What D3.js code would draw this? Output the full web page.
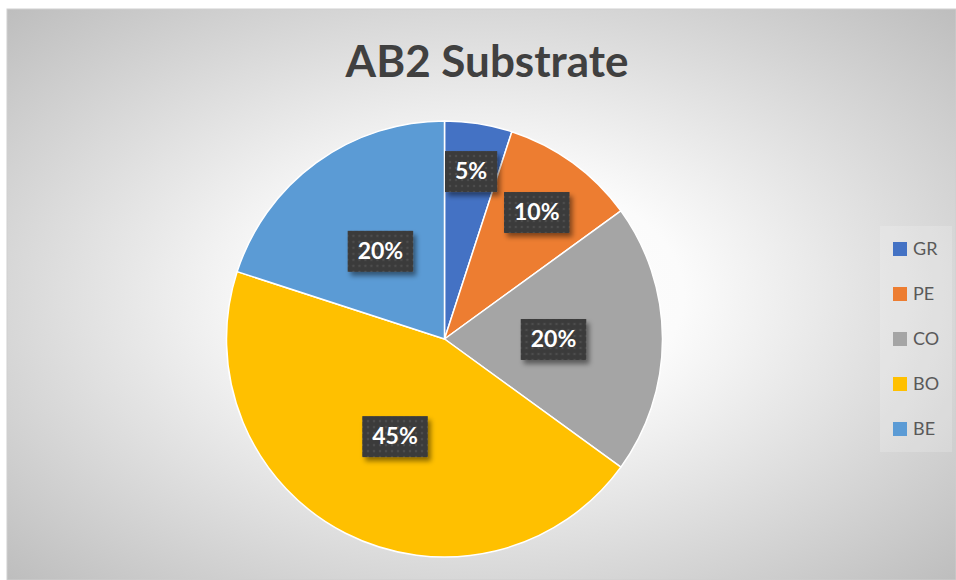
<!DOCTYPE html>
<html>
<head>
<meta charset="utf-8">
<script src="https://cdn.jsdelivr.net/npm/d3@7"></script>
<style>
  html, body { margin: 0; padding: 0; background: #fff; }
  svg { display: block; }
</style>
</head>
<body>
<svg id="chart" width="956" height="580"></svg>
<script>
const title = "AB2 Substrate";
const categories = ["GR", "PE", "CO", "BO", "BE"];
const shares = [5, 10, 20, 45, 20];
const colors = ["#4472C4", "#ED7D31", "#A5A5A5", "#FFC000", "#5B9BD5"];

const svg = d3.select('#chart');
const width = 956, height = 580;
const frame = { x: 7, y: 9, w: width - 7, h: height - 9 };

const defs = svg.append('defs');

// background gradient, white in the middle, grey at the corners
const grad = defs.append('radialGradient')
  .attr('id', 'bg')
  .attr('cx', '50%').attr('cy', '50%').attr('r', '71%');
grad.append('stop').attr('offset', '0%').attr('stop-color', '#ffffff');
grad.append('stop').attr('offset', '30%').attr('stop-color', '#fbfbfb');
grad.append('stop').attr('offset', '100%').attr('stop-color', '#bdbdbd');

// dotted dark fill for the data labels
const pat = defs.append('pattern')
  .attr('id', 'dots')
  .attr('width', 6).attr('height', 6)
  .attr('patternUnits', 'userSpaceOnUse');
pat.append('rect').attr('width', 6).attr('height', 6).attr('fill', '#3b3b3b');
pat.append('circle').attr('cx', 3).attr('cy', 3).attr('r', 1.2).attr('fill', '#4e4e4e');

const shadow = defs.append('filter').attr('id', 'shadow')
  .attr('x', '-20%').attr('y', '-20%').attr('width', '150%').attr('height', '160%');
shadow.append('feDropShadow')
  .attr('dx', 3).attr('dy', 4).attr('stdDeviation', 2.5)
  .attr('flood-color', '#000').attr('flood-opacity', 0.45);

svg.append('rect')
  .attr('x', frame.x).attr('y', frame.y)
  .attr('width', frame.w).attr('height', frame.h)
  .attr('fill', 'url(#bg)')
  .attr('stroke', '#cfcfcf');

// title
svg.append('text')
  .attr('x', 487)
  .attr('y', 77)
  .attr('text-anchor', 'middle')
  .style('font-family', 'Lato, "Open Sans", sans-serif')
  .style('font-weight', 'bold')
  .style('font-size', '44px')
  .attr('fill', '#404040')
  .text(title);

// pie
const cx = 444.5, cy = 339, radius = 218;
const data = categories.map((c, i) => ({ cat: c, value: shares[i], color: colors[i] }));

const pie = d3.pie().sort(null).value(d => d.value);
const arcs = pie(data);
const arc = d3.arc().innerRadius(0).outerRadius(radius);

const g = svg.append('g').attr('transform', `translate(${cx},${cy})`);

g.selectAll('path')
  .data(arcs)
  .enter()
  .append('path')
  .attr('d', arc)
  .attr('fill', d => d.data.color)
  .attr('stroke', '#ffffff')
  .attr('stroke-width', 1.5)
  .attr('stroke-linejoin', 'round');

// labels: small slices sit further out
const total = d3.sum(shares);
function labelPos(d) {
  const share = d.data.value / total;
  const r = share < 0.08 ? radius * 0.78 : share < 0.15 ? radius * 0.72 : radius * 0.5;
  return d3.arc().innerRadius(r).outerRadius(r).centroid(d);
}

const labels = g.selectAll('.lbl')
  .data(arcs)
  .enter()
  .append('g')
  .attr('class', 'lbl')
  .attr('transform', d => `translate(${labelPos(d)})`);

labels.append('rect')
  .attr('fill', 'url(#dots)')
  .attr('filter', 'url(#shadow)');

labels.append('text')
  .attr('text-anchor', 'middle')
  .attr('dy', '0.36em')
  .style('font-family', 'Lato, "Open Sans", sans-serif')
  .style('font-weight', 'bold')
  .style('font-size', '23px')
  .attr('fill', '#ffffff')
  .text(d => Math.round(d.data.value / total * 100) + '%');

labels.each(function() {
  const t = d3.select(this).select('text').node().getBBox();
  d3.select(this).select('rect')
    .attr('x', -t.width / 2 - 10)
    .attr('y', -20)
    .attr('width', t.width + 20)
    .attr('height', 41);
});

// legend
const legend = svg.append('g').attr('transform', 'translate(880,226)');
legend.append('rect')
  .attr('width', 72).attr('height', 226)
  .attr('fill', '#ffffff').attr('fill-opacity', 0.18);

const ly = d3.scalePoint().domain(categories).range([23, 203]);
const items = legend.selectAll('.item')
  .data(data)
  .enter()
  .append('g')
  .attr('class', 'item')
  .attr('transform', d => `translate(13,${ly(d.cat)})`);

items.append('rect')
  .attr('y', -7).attr('width', 14).attr('height', 14)
  .attr('fill', d => d.color);

items.append('text')
  .attr('x', 20)
  .attr('dy', '0.36em')
  .style('font-family', 'Lato, "Open Sans", sans-serif')
  .style('font-size', '18px')
  .attr('fill', '#595959')
  .text(d => d.cat);
</script>
</body>
</html>
